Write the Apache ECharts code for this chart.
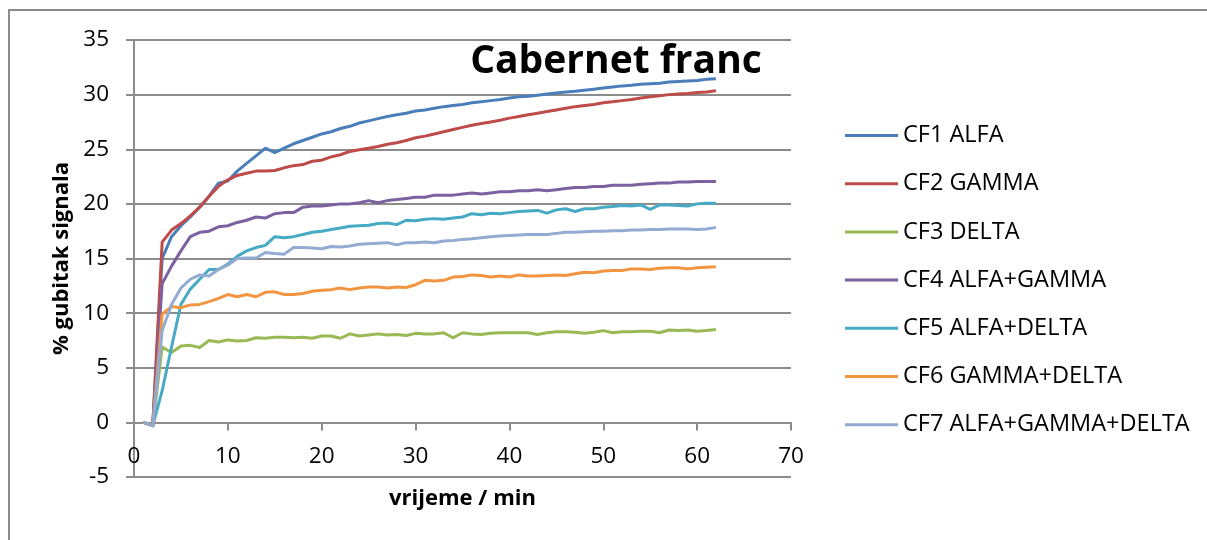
<!DOCTYPE html>
<html>
<head>
<meta charset="utf-8">
<script src="https://cdn.jsdelivr.net/npm/echarts@6/dist/echarts.min.js"></script>
<style>
html,body{margin:0;padding:0;background:#fff;}
#chart{width:1207px;height:540px;}
</style>
</head>
<body>
<div id="chart"></div>
<script>
const minutes = [1,2,3,4,5,6,7,8,9,10,11,12,13,14,15,16,17,18,19,20,21,22,23,24,25,26,27,28,29,30,31,32,33,34,35,36,37,38,39,40,41,42,43,44,45,46,47,48,49,50,51,52,53,54,55,56,57,58,59,60,61,62];

const cf1Alfa = [0,-0.3,15.0,17.0,18.0,18.8,19.7,20.7,21.9,22.1,23.0,23.7,24.4,25.1,24.7,25.1,25.5,25.8,26.1,26.4,26.6,26.9,27.1,27.4,27.6,27.8,28.0,28.15,28.3,28.5,28.6,28.75,28.9,29.0,29.1,29.25,29.35,29.45,29.55,29.7,29.8,29.85,29.95,30.05,30.15,30.25,30.3,30.4,30.5,30.6,30.7,30.8,30.85,30.95,31.0,31.05,31.15,31.2,31.25,31.3,31.4,31.45];
const cf2Gamma = [0,-0.3,16.5,17.6,18.2,18.9,19.7,20.7,21.6,22.2,22.6,22.8,23.0,23.0,23.05,23.3,23.5,23.6,23.9,24.0,24.3,24.5,24.8,24.95,25.1,25.25,25.45,25.6,25.8,26.05,26.2,26.4,26.6,26.8,27.0,27.2,27.35,27.5,27.65,27.85,28.0,28.15,28.3,28.45,28.6,28.75,28.9,29.0,29.1,29.25,29.35,29.45,29.55,29.7,29.8,29.9,30.0,30.05,30.1,30.2,30.25,30.35];
const cf3Delta = [0,-0.3,6.9,6.4,7.0,7.05,6.85,7.5,7.35,7.55,7.45,7.5,7.75,7.7,7.8,7.8,7.75,7.8,7.7,7.9,7.9,7.7,8.1,7.9,8.0,8.1,8.0,8.05,7.95,8.15,8.1,8.1,8.2,7.75,8.2,8.1,8.05,8.15,8.2,8.2,8.2,8.2,8.05,8.2,8.3,8.3,8.25,8.15,8.25,8.4,8.2,8.3,8.3,8.35,8.35,8.2,8.45,8.4,8.45,8.35,8.4,8.5];
const cf4AlfaGamma = [0,-0.3,12.7,14.3,15.7,17.0,17.4,17.5,17.9,18.0,18.3,18.5,18.8,18.7,19.1,19.2,19.2,19.7,19.8,19.8,19.9,20.0,20.0,20.1,20.3,20.1,20.3,20.4,20.5,20.6,20.6,20.8,20.8,20.8,20.9,21.0,20.9,21.0,21.1,21.1,21.2,21.2,21.3,21.2,21.3,21.4,21.5,21.5,21.6,21.6,21.7,21.7,21.7,21.8,21.85,21.9,21.9,22.0,22.0,22.05,22.05,22.05];
const cf5AlfaDelta = [0,-0.3,2.9,6.9,10.8,12.2,13.1,14.0,14.0,14.5,15.2,15.7,16.0,16.2,17.0,16.9,17.0,17.2,17.4,17.5,17.65,17.8,17.95,18.0,18.05,18.2,18.25,18.1,18.5,18.45,18.6,18.65,18.6,18.7,18.8,19.1,19.0,19.15,19.1,19.2,19.3,19.35,19.4,19.15,19.45,19.55,19.3,19.55,19.55,19.7,19.75,19.85,19.8,19.9,19.5,19.9,19.9,19.85,19.8,20.0,20.05,20.05];
const cf6GammaDelta = [0,-0.3,9.9,10.6,10.5,10.75,10.8,11.05,11.35,11.7,11.5,11.7,11.5,11.9,11.95,11.7,11.7,11.8,12.0,12.1,12.15,12.3,12.15,12.3,12.4,12.4,12.3,12.4,12.35,12.6,13.0,12.95,13.0,13.3,13.35,13.5,13.45,13.3,13.4,13.3,13.5,13.4,13.4,13.45,13.5,13.45,13.6,13.75,13.7,13.85,13.9,13.9,14.05,14.05,14.0,14.1,14.15,14.15,14.05,14.15,14.2,14.25];
const cf7AlfaGammaDelta = [0,-0.3,8.4,10.8,12.3,13.1,13.5,13.4,14.0,14.4,15.0,15.05,15.05,15.55,15.45,15.4,16.0,16.0,15.95,15.9,16.1,16.05,16.15,16.3,16.35,16.4,16.45,16.25,16.45,16.45,16.5,16.45,16.6,16.65,16.75,16.8,16.9,17.0,17.05,17.1,17.15,17.2,17.2,17.2,17.3,17.4,17.4,17.45,17.5,17.5,17.55,17.55,17.6,17.6,17.65,17.65,17.7,17.7,17.7,17.65,17.7,17.85];

const seriesNames = ['CF1 ALFA','CF2 GAMMA','CF3 DELTA','CF4 ALFA+GAMMA','CF5 ALFA+DELTA','CF6 GAMMA+DELTA','CF7 ALFA+GAMMA+DELTA'];
const seriesValues = [cf1Alfa, cf2Gamma, cf3Delta, cf4AlfaGamma, cf5AlfaDelta, cf6GammaDelta, cf7AlfaGammaDelta];
const seriesColors = ['#4A7EBB','#BE4B48','#98B954','#7D60A0','#46AAC5','#F39440','#93AAD3'];

const titleText = 'Cabernet franc';
const xName = 'vrijeme / min';
const yName = '% gubitak signala';

const FONT = '"Open Sans", sans-serif';
const GRID = '#8c8c8c';

const Y_MIN = -5, Y_MAX = 35;
const GRID_TOP = 40, GRID_H = 437;
// x axis crosses the value axis at y = 0 (offset from the grid bottom)
const X_AXIS_OFFSET = -GRID_H * (0 - Y_MIN) / (Y_MAX - Y_MIN);

const chart = echarts.init(document.getElementById('chart'), null, {renderer: 'canvas'});

const option = {
  backgroundColor: '#fff',
  animation: false,
  graphic: [
    {type: 'rect', shape: {x: 9, y: 10, width: 1400, height: 800}, style: {fill: 'none', stroke: GRID, lineWidth: 2}, silent: true, z: 0},
    {type: 'text', x: 616, y: 62, style: {text: titleText, font: 'bold 39px "Open Sans", sans-serif', fill: '#000', textAlign: 'center', textVerticalAlign: 'middle'}, z: 10}
  ],
  grid: {left: 134, top: GRID_TOP, width: 657, height: GRID_H, containLabel: false, outerBoundsMode: 'none'},
  legend: {
    orient: 'vertical', left: 845, top: 123.5, padding: 0,
    icon: 'rect', itemWidth: 53, itemHeight: 3, itemGap: 24.2,
    textStyle: {fontFamily: FONT, fontSize: 23.5, lineHeight: 24, color: '#000'},
    data: seriesNames
  },
  xAxis: {
    type: 'value', min: 0, max: 70, interval: 10,
    position: 'bottom', offset: X_AXIS_OFFSET,
    name: xName, nameLocation: 'middle', nameGap: 65,
    nameTextStyle: {fontFamily: FONT, fontSize: 22, fontWeight: 'bold', color: '#000'},
    axisLine: {show: true, onZero: false, lineStyle: {color: GRID, width: 2}},
    axisTick: {show: true, length: 8, lineStyle: {color: GRID, width: 2}},
    axisLabel: {fontFamily: FONT, fontSize: 22.5, color: '#000', margin: 23},
    splitLine: {show: false}
  },
  yAxis: {
    type: 'value', min: Y_MIN, max: Y_MAX, interval: 5,
    name: yName, nameLocation: 'middle', nameGap: 60, nameRotate: 90,
    nameTextStyle: {fontFamily: FONT, fontSize: 22, fontWeight: 'bold', color: '#000'},
    axisLine: {show: true, onZero: false, lineStyle: {color: GRID, width: 2}},
    axisTick: {show: true, length: 8, lineStyle: {color: GRID, width: 2}},
    axisLabel: {fontFamily: FONT, fontSize: 22.5, color: '#000', margin: 25},
    splitLine: {show: true, lineStyle: {color: GRID, width: 2}}
  },
  series: seriesNames.map((name, i) => ({
    name: name,
    type: 'line',
    showSymbol: false,
    symbol: 'none',
    color: seriesColors[i],
    lineStyle: {width: 3, color: seriesColors[i], join: 'round'},
    data: minutes.map((m, j) => [m, seriesValues[i][j]]),
    z: 3 + i
  }))
};

chart.setOption(option);
</script>
</body>
</html>
